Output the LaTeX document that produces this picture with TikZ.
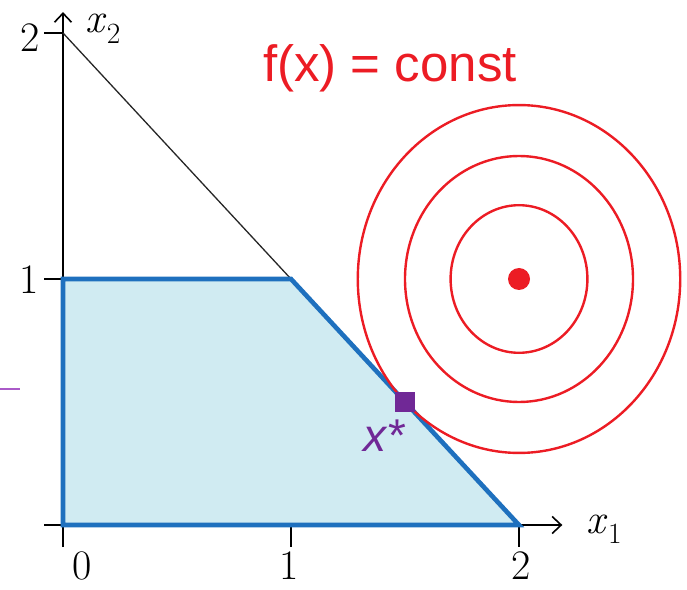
\documentclass[tikz,border=0pt]{standalone}
\usepackage{amsmath,amssymb}
\usepackage{fontspec}
\newfontfamily\labelfont{Liberation Sans}
\usepackage{xcolor}
\usepackage{tikz}
\usetikzlibrary{arrows.meta}

\definecolor{feasfill}{RGB}{208,235,242}
\definecolor{feasline}{RGB}{30,112,190}
\definecolor{levelred}{RGB}{236,28,36}
\definecolor{optpurple}{RGB}{112,40,150}
\definecolor{markpurple}{RGB}{170,90,200}
\newcommand{\axlabel}[1]{\textit{x}\textsubscript{#1}}

\begin{document}
\begin{tikzpicture}[x=228pt,y=246pt,line width=1.6pt,
    axis/.style={black,line width=1.6pt},
    level/.style={levelred,line width=2.4pt},
    ticklabel/.style={font=\fontsize{42}{46}\selectfont,inner sep=0pt}]
    \useasboundingbox (-63pt,-64pt) rectangle (624pt,525pt);
    \fill[feasfill] (0,0) -- (0,1) -- (1,1) -- (2,0) -- cycle;
    \draw[axis,-{Straight Barb[length=9pt,width=17pt]}] (-0.083,0) -- (2.19,0);
    \draw[axis,-{Straight Barb[length=9pt,width=17pt]}] (0,-0.09) -- (0,2.085);
    \foreach \t in {1,2} \draw[axis] (\t,0) -- (\t,-0.09);
    \foreach \t in {1,2} \draw[axis] (0,\t) -- (-0.083,\t);
    \draw[black!85,line width=1.3pt] (0,2) -- (1,1);
    \draw[feasline,line width=4.6pt] (0,0) -- (0,1) -- (1,1) -- (2,0) -- cycle;
    \draw[markpurple,line width=2pt] (-0.276,0.553) -- (-0.189,0.553);
    \foreach \r in {0.3,0.5,0.7071} \draw[level] (2,1) circle[radius=\r];
    \fill[levelred] (2,1) circle[radius=11pt];
    \node[fill=optpurple,minimum size=20pt,inner sep=0pt] (xstar) at (1.5,0.5) {};
    \node[ticklabel] (lab0) at (0.083,-0.165) {0};
    \node[ticklabel] (lab1) at (0.99,-0.165) {1};
    \node[ticklabel] (lab2) at (2.01,-0.165) {2};
    \node[ticklabel] (laby1) at (-0.149,0.996) {1};
    \node[ticklabel] (laby2) at (-0.145,1.98) {2};
    \node[ticklabel,anchor=base west] (xone) at (2.294,-0.033) {\axlabel{1}};
    \node[ticklabel,anchor=base west] (xtwo) at (0.096,2.0) {\axlabel{2}};
    \node[levelred,anchor=base,inner sep=0pt,font=\labelfont\fontsize{51}{56}\selectfont] (flabel) at (1.434,1.801) {f(x) = const};
    \node[optpurple,anchor=base west,inner sep=0pt,font=\labelfont\itshape\fontsize{46}{50}\selectfont] (xlabel) at (1.316,0.297) {x*};
  \end{tikzpicture}
\end{document}
